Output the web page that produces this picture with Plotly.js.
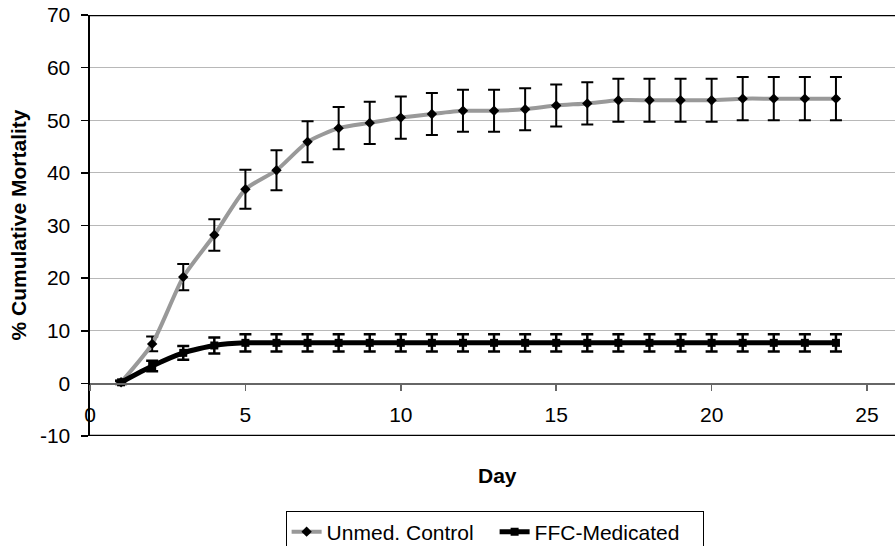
<!DOCTYPE html>
<html>
<head>
<meta charset="utf-8">
<script src="https://cdn.plot.ly/plotly-3.0.1.min.js"></script>
<style>html,body{margin:0;padding:0;background:#fff;overflow:hidden;}#chart{width:895px;height:570px;}</style>
</head>
<body>
<div id="chart"></div>
<script>
const days = [1,2,3,4,5,6,7,8,9,10,11,12,13,14,15,16,17,18,19,20,21,22,23,24];
const unmedControl = [0.2,7.5,20.2,28.2,36.9,40.5,45.9,48.5,49.5,50.5,51.2,51.8,51.8,52.1,52.8,53.2,53.8,53.8,53.8,53.8,54.1,54.1,54.1,54.1];
const unmedErr = [0.3,1.4,2.5,3.0,3.7,3.8,3.9,4.0,4.0,4.0,4.0,4.0,4.0,4.0,4.0,4.0,4.1,4.1,4.1,4.1,4.1,4.1,4.1,4.1];
const ffcMedicated = [0.2,3.3,5.8,7.2,7.7,7.7,7.7,7.7,7.7,7.7,7.7,7.7,7.7,7.7,7.7,7.7,7.7,7.7,7.7,7.7,7.7,7.7,7.7,7.7];
const ffcErr = [0.3,1.0,1.3,1.5,1.65,1.65,1.65,1.65,1.65,1.65,1.65,1.65,1.65,1.65,1.65,1.65,1.65,1.65,1.65,1.65,1.65,1.65,1.65,1.65];
const xTicks = [0,5,10,15,20,25];
const yTicks = [-10,0,10,20,30,40,50,60,70];

const FONT = 'Liberation Sans, Arial, sans-serif';

const traces = [
  {
    x: days, y: unmedControl, name: 'Unmed. Control', type: 'scatter', mode: 'lines+markers',
    line: {color: '#999999', width: 4, shape: 'spline', smoothing: 0.6},
    marker: {symbol: 'diamond', size: 8, color: '#000'},
    error_y: {type: 'data', array: unmedErr, visible: true, color: '#000', thickness: 2, width: 6}
  },
  {
    x: days, y: ffcMedicated, name: 'FFC-Medicated', type: 'scatter', mode: 'lines+markers',
    line: {color: '#000', width: 5, shape: 'spline', smoothing: 0.6},
    marker: {symbol: 'square', size: 8, color: '#000'},
    error_y: {type: 'data', array: ffcErr, visible: true, color: '#000', thickness: 2.5, width: 6}
  }
];

const layout = {
  width: 895, height: 570,
  margin: {l: 90, r: 0, t: 15, b: 134},
  paper_bgcolor: '#fff', plot_bgcolor: '#fff',
  font: {family: FONT, size: 21, color: '#000'},
  showlegend: true,
  legend: {
    orientation: 'h', x: 0.243, xanchor: 'left', y: -0.177, yanchor: 'top',
    bordercolor: '#000', borderwidth: 1, bgcolor: '#fff',
    entrywidth: 163, entrywidthmode: 'pixels',
    font: {family: FONT, size: 21, color: '#000'}, traceorder: 'normal'
  },
  xaxis: {
    range: [0, 25.9], tickvals: xTicks, ticktext: xTicks.map(String),
    anchor: 'free', position: 0.125,
    showline: true, linecolor: '#666', linewidth: 1.5,
    ticks: 'outside', ticklen: 6, tickcolor: '#666', tickwidth: 1.5,
    ticklabelstandoff: 6,
    showgrid: false, zeroline: false,
    tickfont: {family: FONT, size: 21, color: '#000'}
  },
  yaxis: {
    range: [-10, 70], tickvals: yTicks, ticktext: yTicks.map(String),
    showline: true, linecolor: '#000', linewidth: 2.5,
    ticks: 'outside', ticklen: 7, tickcolor: '#000', tickwidth: 1.5,
    ticklabelstandoff: 6,
    showgrid: true, gridcolor: '#b8b8b8', gridwidth: 1.2, zeroline: false,
    tickfont: {family: FONT, size: 21, color: '#000'}
  },
  shapes: [
    {type: 'line', xref: 'paper', yref: 'y', x0: 0, x1: 1, y0: 70, y1: 70, line: {color: '#000', width: 2.5}},
    {type: 'line', xref: 'paper', yref: 'y', x0: 0, x1: 1, y0: -10, y1: -10, line: {color: '#000', width: 2.5}}
  ],
  annotations: [
    {text: '<b>Day</b>', xref: 'paper', yref: 'paper', x: 0.506, y: -0.095, xanchor: 'center', yanchor: 'middle',
     showarrow: false, font: {family: FONT, size: 21, color: '#000'}},
    {text: '<b>% Cumulative Mortality</b>', xref: 'paper', yref: 'paper', x: -0.0894, y: 0.5, xanchor: 'center', yanchor: 'middle',
     textangle: -90, showarrow: false, font: {family: FONT, size: 21, color: '#000'}}
  ]
};

Plotly.newPlot('chart', traces, layout, {displayModeBar: false, staticPlot: true});
</script>
</body>
</html>
